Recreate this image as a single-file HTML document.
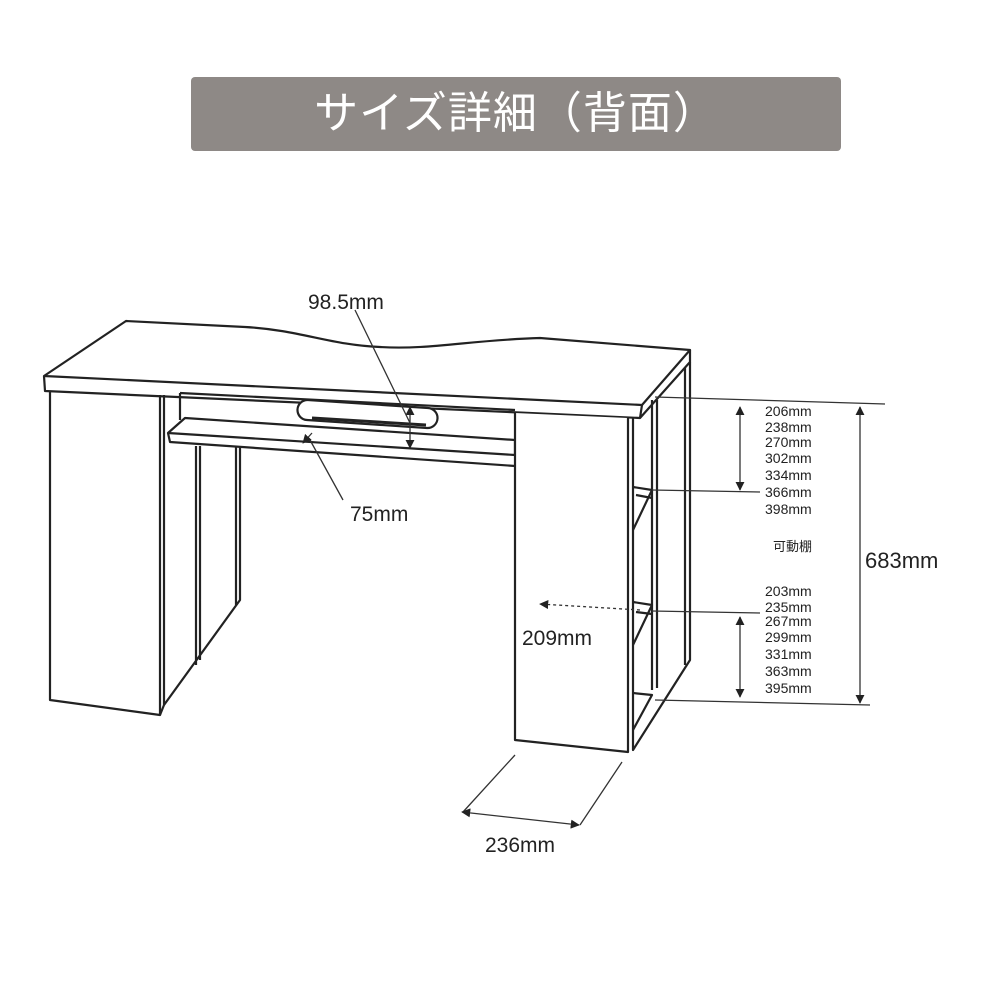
<!DOCTYPE html>
<html><head><meta charset="utf-8"><style>
html,body{margin:0;padding:0;background:#fff;width:1000px;height:1000px;overflow:hidden}
.t{position:absolute;left:191px;top:77px;width:650px;height:74px;background:#8e8986;border-radius:4px;color:#fff;font:44px "Liberation Sans","Noto Sans CJK JP",sans-serif;text-align:center;line-height:74px;letter-spacing:1px}
svg{position:absolute;left:0;top:0}
</style></head><body>
<div class="t">サイズ詳細（背面）</div>
<svg width="1000" height="1000" viewBox="0 0 1000 1000" font-family="Liberation Sans, Noto Sans CJK JP, sans-serif">
<defs><marker id="a" viewBox="0 0 10 10" refX="9" refY="5" markerWidth="7" markerHeight="7" orient="auto-start-reverse"><path d="M0,0L10,5L0,10z" fill="#222"/></marker></defs>
<g fill="none" stroke="#222" stroke-width="2.2" stroke-linejoin="round">
<path d="M126,321 L245,327 C300,330 330,345 380,347 C430,350 470,340 540,338 L690,350 L642,405 L44,376 Z" fill="#fff"/>
<path d="M44,376 L45,391 L640,418 L642,405 M640,418 L690,362 L690,350"/>
<path d="M180,393 L180,420 M515,410 L180,393"/>
<path d="M308,400 L428,408 A10,10 0 0 1 427,428 L307,420 A10,10 0 0 1 308,400 Z" fill="#fff"/>
<path d="M312,418 L426,425" stroke-width="3"/>
<path d="M168,433 L185,418 L515,440 L515,455 L168,433 L170,442 L515,466" fill="#fff"/>
<path d="M50,392 L50,700 L160,715 L160,395"/>
<path d="M164,395 L164,705 L240,600 L240,446 M196,446 L196,665 M200,446 L200,660 M236,446 L236,605 M160,715 L164,705"/>
<path d="M515,413 L515,740 L628,752 L628,418" fill="#fff"/>
<path d="M633,418 L633,750 L690,660 L690,362 M652,400 L652,690 M657,400 L657,688 M685,368 L685,665"/>
<path d="M633,487 L652,490 L633,530 M636,495 L652,498 M633,602 L652,605 L633,645 M636,612 L652,614 M633,693 L652,695 L633,730"/>
</g>
<g fill="none" stroke="#333" stroke-width="1.3">
<path d="M655,397 L885,404 M652,490 L760,492 M652,611 L760,613 M655,700 L870,705"/>
<path d="M740,407 L740,490" marker-start="url(#a)" marker-end="url(#a)"/>
<path d="M740,617 L740,697" marker-start="url(#a)" marker-end="url(#a)"/>
<path d="M860,407 L860,703" marker-start="url(#a)" marker-end="url(#a)"/>
<path d="M410,407 L410,448" marker-start="url(#a)" marker-end="url(#a)"/>
<path d="M355,310 L410,423 M343,500 L310,440"/>
<path d="M312,433 L303,443" marker-end="url(#a)"/>
<path d="M640,610 L540,604" stroke-dasharray="3,3" marker-end="url(#a)"/>
<path d="M463,812 L515,755 M580,825 L622,762"/>
<path d="M462,812 L579,825" marker-start="url(#a)" marker-end="url(#a)"/>
</g>
<g fill="#222">
<text x="308" y="309" font-size="21">98.5mm</text>
<text x="350" y="521" font-size="21">75mm</text>
<text x="522" y="645" font-size="21">209mm</text>
<text x="865" y="568" font-size="22">683mm</text>
<text x="485" y="852" font-size="21">236mm</text>
<text x="773" y="551" font-size="13">可動棚</text>
<g font-size="14">
<text x="765" y="416">206mm</text><text x="765" y="432">238mm</text><text x="765" y="447">270mm</text><text x="765" y="463">302mm</text><text x="765" y="480">334mm</text><text x="765" y="497">366mm</text><text x="765" y="514">398mm</text>
<text x="765" y="596">203mm</text><text x="765" y="612">235mm</text><text x="765" y="626">267mm</text><text x="765" y="642">299mm</text><text x="765" y="659">331mm</text><text x="765" y="676">363mm</text><text x="765" y="693">395mm</text>
</g></g>
</svg>
</body></html>
